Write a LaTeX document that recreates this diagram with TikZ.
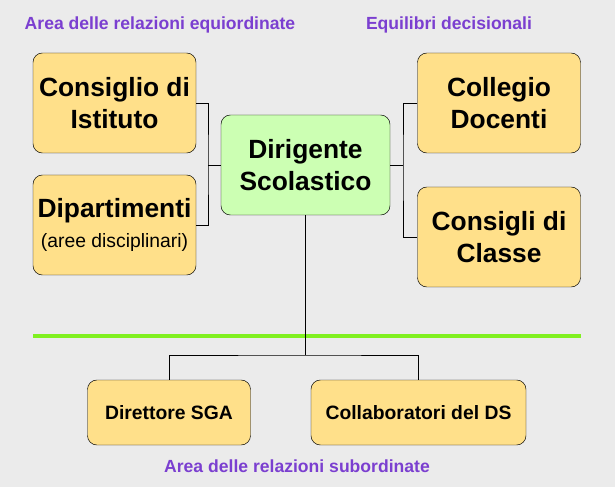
\documentclass[tikz,border=0pt]{standalone}
\usepackage{fontspec}
\setmainfont{Liberation Sans}
\usetikzlibrary{positioning}
\definecolor{boxyellow}{HTML}{FFE08A}
\definecolor{boxgreen}{HTML}{CCFFB3}
\definecolor{areapurple}{HTML}{7B3FD0}
\definecolor{bggray}{HTML}{EBEBEB}
\definecolor{linegreen}{HTML}{80F020}
\begin{document}
\begin{tikzpicture}[x = 0.03cm, y = -0.03cm]

	% Definitions

	\tikzset{
		organ/.style = {draw, fill = boxyellow, rounded corners = 8pt, minimum width = 163*0.03cm, minimum height = 100*0.03cm, align = center, font = \fontsize{22.5}{27}\selectfont\bfseries},
		staff/.style = {organ, minimum height = 65*0.03cm, font = \fontsize{16.5}{20}\selectfont\bfseries},
		area/.style = {text = areapurple, font = \fontsize{15}{18}\selectfont\bfseries}
	}

	% Background

	\fill [bggray] (0, 0) rectangle (615, 487);
	\useasboundingbox (0, 0) rectangle (615, 487);

	% Area labels

	\node [area] (equi) at (160, 25) {Area delle relazioni equiordinate};
	\node [area] (deci) at (449, 25) {Equilibri decisionali};
	\node [area] (subo) at (297, 466) {Area delle relazioni subordinate};

	% Upper boxes

	\node [organ] (istituto) at (114.5, 103) {Consiglio di\\Istituto};
	\node [organ] (dipart) at (114.5, 225) {Dipartimenti\\[-2pt]{\fontsize{16.5}{20}\selectfont\mdseries (aree disciplinari)}};
	\node [organ, fill = boxgreen, minimum width = 169*0.03cm] (ds) at (305.5, 165) {Dirigente\\Scolastico};
	\node [organ] (collegio) at (499, 103) {Collegio\\Docenti};
	\node [organ] (classe) at (499, 237) {Consigli di\\Classe};

	% Lower boxes

	\node [staff] (dsga) at (169, 412.5) {Direttore SGA};
	\node [staff, minimum width = 215*0.03cm] (collab) at (418.5, 412.5) {Collaboratori del DS};

	% Separator

	\draw [linegreen, line width = 3pt] (33, 336) -- (581, 336);

	% Connectors

	\coordinate (lj) at (208, 165);
	\coordinate (rj) at (403, 165);
	\coordinate (dj) at (305.5, 355);
	\draw (istituto.east) -| (lj) |- (dipart.east);
	\draw (lj) -- (ds.west);
	\draw (collegio.west) -| (rj) |- (classe.west);
	\draw (rj) -- (ds.east);
	\draw (ds.south) -- (dj);
	\draw (dsga.north) |- (dj) -| (collab.north);

\end{tikzpicture}
\end{document}
